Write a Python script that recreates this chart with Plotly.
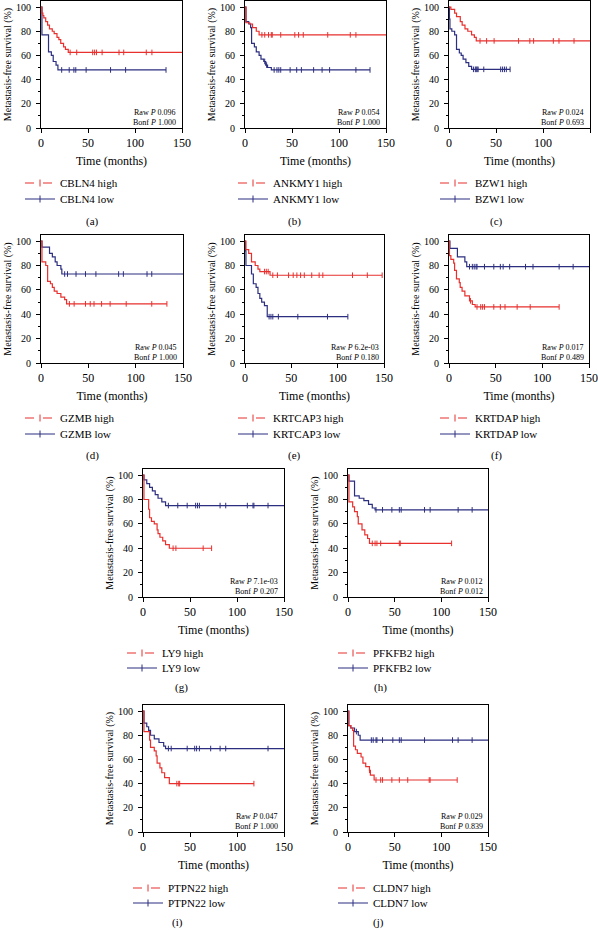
import plotly.graph_objects as go

W, H = 598, 930
FONT = "Liberation Serif"
RED = "#e8302e"
BLUE = "#2c2f80"

# ---------------- data ----------------
genes = ["CBLN4", "ANKMY1", "BZW1", "GZMB", "KRTCAP3", "KRTDAP", "LY9", "PFKFB2", "PTPN22", "CLDN7"]
panel_labels = ["(a)", "(b)", "(c)", "(d)", "(e)", "(f)", "(g)", "(h)", "(i)", "(j)"]
raw_p = ["0.096", "0.054", "0.024", "0.045", "6.2e-03", "0.017", "7.1e-03", "0.012", "0.047", "0.029"]
bonf_p = ["1.000", "1.000", "0.693", "1.000", "0.180", "0.489", "0.207", "0.012", "1.000", "0.839"]

# each group: step times, survival (%), last follow-up, censor times
CBLN4_high_t = [0, 1, 2, 3, 5, 7, 9, 12, 14, 17, 19, 21, 24, 26, 29]
CBLN4_high_s = [100, 95, 93, 91, 88, 85, 82, 80, 78, 75, 73, 70, 67, 65, 62.5]
CBLN4_high_end = 150
CBLN4_high_c = [31, 38, 55, 57, 59, 65, 83, 88, 112, 118]
CBLN4_low_t = [0, 1, 8, 11, 13, 16, 18]
CBLN4_low_s = [100, 77, 63, 60, 55, 52, 48]
CBLN4_low_end = 133
CBLN4_low_c = [22, 30, 35, 37, 48, 74, 90, 133]

ANKMY1_high_t = [0, 1, 5, 8, 12, 15]
ANKMY1_high_s = [100, 87, 86, 83, 80, 77]
ANKMY1_high_end = 150
ANKMY1_high_c = [18, 21, 25, 28, 29, 38, 53, 57, 62, 88, 112, 118]
ANKMY1_low_t = [0, 1, 4, 6, 7, 10, 12, 15, 17, 20, 22, 24, 28]
ANKMY1_low_s = [100, 88, 86, 83, 70, 67, 63, 60, 57, 55, 52, 50, 48]
ANKMY1_low_end = 133
ANKMY1_low_c = [21, 23, 31, 34, 36, 38, 48, 55, 60, 73, 82, 90, 118, 133]

BZW1_high_t = [0, 2, 6, 8, 12, 14, 17, 20, 24, 27, 29]
BZW1_high_s = [100, 98, 95, 92, 88, 85, 82, 80, 77, 75, 72]
BZW1_high_end = 150
BZW1_high_c = [33, 40, 48, 74, 86, 90, 111, 117, 133]
BZW1_low_t = [0, 0.5, 1, 3, 6, 8, 11, 13, 15, 18, 21, 24]
BZW1_low_s = [100, 90, 82, 80, 77, 65, 62, 60, 57, 54, 51, 48.5]
BZW1_low_end = 65
BZW1_low_c = [26, 28, 29, 30, 31, 37, 55, 57, 59, 61, 65]

GZMB_high_t = [0, 1, 5, 7, 10, 12, 14, 17, 21, 25, 27]
GZMB_high_s = [100, 83, 80, 67, 65, 62, 59, 57, 54, 52, 48.5]
GZMB_high_end = 133
GZMB_high_c = [30, 35, 47, 52, 56, 64, 73, 90, 117, 133]
GZMB_low_t = [0, 1, 9, 12, 15, 17, 21, 22]
GZMB_low_s = [100, 95, 90, 87, 83, 80, 77, 73]
GZMB_low_end = 150
GZMB_low_c = [25, 28, 37, 47, 58, 82, 87, 112, 117]

KRTCAP3_high_t = [0, 1, 4, 7, 11, 14, 16, 27]
KRTCAP3_high_s = [100, 93, 90, 83, 80, 77, 75, 72]
KRTCAP3_high_end = 148
KRTCAP3_high_c = [21, 23, 25, 30, 35, 47, 52, 56, 60, 64, 72, 80, 84, 116, 132, 148]
KRTCAP3_low_t = [0, 0.5, 1, 7, 9, 12, 14, 16, 18, 21, 24]
KRTCAP3_low_s = [100, 92, 80, 73, 65, 62, 57, 53, 50, 47, 38]
KRTCAP3_low_end = 111
KRTCAP3_low_c = [26, 28, 30, 36, 57, 89, 111]

KRTDAP_high_t = [0, 0.5, 2, 5, 6, 8, 11, 12, 14, 17, 22, 25, 28]
KRTDAP_high_s = [100, 88, 85, 82, 76, 69, 66, 62, 59, 55, 51, 48, 46]
KRTDAP_high_end = 118
KRTDAP_high_c = [23, 30, 34, 36, 38, 48, 55, 60, 73, 87, 118]
KRTDAP_low_t = [0, 1, 9, 17, 19]
KRTDAP_low_s = [100, 94, 87, 83, 79]
KRTDAP_low_end = 150
KRTDAP_low_c = [22, 25, 27, 29, 30, 38, 48, 55, 58, 65, 82, 90, 118, 133]

LY9_high_t = [0, 1, 6, 7, 9, 12, 15, 16, 18, 21, 24, 28]
LY9_high_s = [100, 80, 72, 65, 62, 60, 55, 52, 49, 46, 43, 40]
LY9_high_end = 73
LY9_high_c = [32, 35, 64, 73]
LY9_low_t = [0, 1, 4, 7, 10, 13, 16, 20, 24]
LY9_low_s = [100, 96, 93, 90, 87, 84, 81, 78, 75]
LY9_low_end = 150
LY9_low_c = [27, 37, 47, 56, 58, 60, 82, 88, 111, 117, 118, 133]

PFKFB2_high_t = [0, 1, 5, 7, 10, 11, 15, 18, 21, 23]
PFKFB2_high_s = [100, 78, 74, 70, 66, 60, 55, 51, 48, 44]
PFKFB2_high_end = 111
PFKFB2_high_c = [26, 29, 31, 35, 55, 56, 111]
PFKFB2_low_t = [0, 1, 7, 12, 17, 22, 26, 29]
PFKFB2_low_s = [100, 95, 83, 81, 79, 76, 73, 71.5]
PFKFB2_low_end = 150
PFKFB2_low_c = [30, 37, 47, 55, 57, 82, 88, 118, 133]

PTPN22_high_t = [0, 1, 7, 8, 12, 14, 15, 18, 20, 23, 28]
PTPN22_high_s = [100, 83, 76, 70, 67, 63, 57, 53, 49, 45, 40]
PTPN22_high_end = 118
PTPN22_high_c = [36, 38, 39, 118]
PTPN22_low_t = [0, 1, 4, 6, 8, 12, 17, 22, 24]
PTPN22_low_s = [100, 90, 87, 84, 80, 77, 74, 71, 69]
PTPN22_low_end = 150
PTPN22_low_c = [27, 30, 47, 55, 57, 60, 72, 82, 88, 133]

CLDN7_high_t = [0, 0.5, 3, 5, 6, 8, 10, 14, 16, 19, 23, 24, 28]
CLDN7_high_s = [100, 88, 86, 84, 71, 68, 65, 62, 57, 54, 51, 47, 43]
CLDN7_high_end = 117
CLDN7_high_c = [23, 30, 35, 37, 47, 55, 64, 87, 88, 117]
CLDN7_low_t = [0, 1, 3, 7, 11, 13]
CLDN7_low_s = [100, 88, 86, 83, 80, 76]
CLDN7_low_end = 150
CLDN7_low_c = [9, 25, 27, 30, 31, 37, 48, 55, 57, 82, 112, 118, 133]

x_ticks = [0, 50, 100, 150]
y_ticks = [0, 20, 40, 60, 80, 100]

series = {
    "CBLN4": (CBLN4_high_t, CBLN4_high_s, CBLN4_high_end, CBLN4_high_c, CBLN4_low_t, CBLN4_low_s, CBLN4_low_end, CBLN4_low_c),
    "ANKMY1": (ANKMY1_high_t, ANKMY1_high_s, ANKMY1_high_end, ANKMY1_high_c, ANKMY1_low_t, ANKMY1_low_s, ANKMY1_low_end, ANKMY1_low_c),
    "BZW1": (BZW1_high_t, BZW1_high_s, BZW1_high_end, BZW1_high_c, BZW1_low_t, BZW1_low_s, BZW1_low_end, BZW1_low_c),
    "GZMB": (GZMB_high_t, GZMB_high_s, GZMB_high_end, GZMB_high_c, GZMB_low_t, GZMB_low_s, GZMB_low_end, GZMB_low_c),
    "KRTCAP3": (KRTCAP3_high_t, KRTCAP3_high_s, KRTCAP3_high_end, KRTCAP3_high_c, KRTCAP3_low_t, KRTCAP3_low_s, KRTCAP3_low_end, KRTCAP3_low_c),
    "KRTDAP": (KRTDAP_high_t, KRTDAP_high_s, KRTDAP_high_end, KRTDAP_high_c, KRTDAP_low_t, KRTDAP_low_s, KRTDAP_low_end, KRTDAP_low_c),
    "LY9": (LY9_high_t, LY9_high_s, LY9_high_end, LY9_high_c, LY9_low_t, LY9_low_s, LY9_low_end, LY9_low_c),
    "PFKFB2": (PFKFB2_high_t, PFKFB2_high_s, PFKFB2_high_end, PFKFB2_high_c, PFKFB2_low_t, PFKFB2_low_s, PFKFB2_low_end, PFKFB2_low_c),
    "PTPN22": (PTPN22_high_t, PTPN22_high_s, PTPN22_high_end, PTPN22_high_c, PTPN22_low_t, PTPN22_low_s, PTPN22_low_end, PTPN22_low_c),
    "CLDN7": (CLDN7_high_t, CLDN7_high_s, CLDN7_high_end, CLDN7_high_c, CLDN7_low_t, CLDN7_low_s, CLDN7_low_end, CLDN7_low_c),
}

# ---------------- layout (pixel boxes) ----------------
boxes = [
    (41, 182, 1, 128), (245, 386, 1, 128), (449, 590, 1, 128),
    (41, 183, 235, 363), (245, 384, 235, 363), (449, 589, 235, 363),
    (143, 284, 469, 597), (348, 488, 469, 597),
    (143, 284, 705, 832), (348, 488, 705, 832),
]
# legend: line start x, row y (high), row y (low)
legend_pos = [(30, 183, 199), (243, 183, 199), (445, 183, 199),
              (30, 418, 434), (243, 418, 434), (445, 418, 434),
              (132, 653, 668), (343, 653, 668),
              (138, 888, 903), (343, 888, 903)]
label_pos = [(92, 221), (294, 221), (496, 221),
             (92, 456), (294, 456), (496, 456),
             (181, 687), (380, 687),
             (177, 922), (378, 922)]


def step_value(t, s, x):
    v = s[0]
    for ti, si in zip(t, s):
        if x >= ti:
            v = si
    return v


fig = go.Figure()
layout = dict(
    template="none",
    width=W, height=H, margin=dict(l=0, r=0, t=0, b=0, autoexpand=False),
    paper_bgcolor="white", plot_bgcolor="white",
    font=dict(family=FONT, size=11, color="black"),
    annotations=[],
)

for i, g in enumerate(genes):
    n = "" if i == 0 else str(i + 1)
    xa, ya = "x" + n, "y" + n
    lg_hi = "legend" if i == 0 else "legend" + str(2 * i + 1)
    lg_lo = "legend" + str(2 * i + 2)
    ht, hs, he, hc, lt, ls, le, lc = series[g]
    L, R, T, B = boxes[i]

    for (tt, ss, ee, cc, col) in [(lt, ls, le, lc, BLUE), (ht, hs, he, hc, RED)]:
        fig.add_trace(go.Scatter(
            x=list(tt) + [ee], y=list(ss) + [ss[-1]], mode="lines",
            line=dict(color=col, width=1.2, shape="hv"),
            xaxis=xa, yaxis=ya, showlegend=False, hoverinfo="skip"))
        fig.add_trace(go.Scatter(
            x=cc, y=[step_value(tt, ss, c) for c in cc], mode="markers",
            marker=dict(symbol="line-ns", size=4, line=dict(color=col, width=1)),
            xaxis=xa, yaxis=ya, showlegend=False, hoverinfo="skip"))

    fig.add_trace(go.Scatter(
        x=[None], y=[None], mode="lines+markers", name=g + " high",
        line=dict(color=RED, width=1.2, dash="dash"),
        marker=dict(symbol="line-ns", size=5, line=dict(color=RED, width=1)),
        xaxis=xa, yaxis=ya, legend=lg_hi))
    fig.add_trace(go.Scatter(
        x=[None], y=[None], mode="lines+markers", name=g + " low",
        line=dict(color=BLUE, width=1.2),
        marker=dict(symbol="line-ns", size=5, line=dict(color=BLUE, width=1)),
        xaxis=xa, yaxis=ya, legend=lg_lo))

    lx, ly_hi, ly_lo = legend_pos[i]
    for lg, ly in [(lg_hi, ly_hi), (lg_lo, ly_lo)]:
        layout[lg] = dict(
            x=(lx - 10) / W, y=1 - ly / H, xanchor="left", yanchor="middle",
            bgcolor="rgba(0,0,0,0)", font=dict(family=FONT, size=11),
            itemwidth=30,
        )

    axis_common = dict(
        showline=True, mirror=True, linecolor="black", linewidth=1,
        ticks="outside", ticklen=4, tickcolor="black", tickwidth=1,
        showgrid=False, zeroline=False, automargin=False,
    )
    layout["xaxis" + n] = dict(
        axis_common, domain=[L / W, R / W], anchor=ya, range=[0, 150],
        tickvals=x_ticks, tickfont=dict(family=FONT, size=12),
        title=dict(text="Time (months)", font=dict(family=FONT, size=12), standoff=7),
    )
    layout["yaxis" + n] = dict(
        axis_common, domain=[1 - B / H, 1 - T / H], anchor=xa, range=[0, 105],
        tickvals=y_ticks, tickfont=dict(family=FONT, size=10), ticklabelstandoff=3,
        minor=dict(dtick=10, tick0=0, ticks="outside", ticklen=2, tickcolor="black"),
        title=dict(text="Metastasis-free survival (%)", font=dict(family=FONT, size=10), standoff=2),
    )

    layout["annotations"].append(dict(
        text="Raw <i>P</i> " + raw_p[i], xref=xa + " domain", yref=ya + " domain",
        x=0.975, y=0.125, xanchor="right", yanchor="middle", showarrow=False,
        font=dict(family=FONT, size=8)))
    layout["annotations"].append(dict(
        text="Bonf <i>P</i> " + bonf_p[i], xref=xa + " domain", yref=ya + " domain",
        x=0.975, y=0.04, xanchor="right", yanchor="middle", showarrow=False,
        font=dict(family=FONT, size=8)))
    px, py = label_pos[i]
    layout["annotations"].append(dict(
        text=panel_labels[i], xref="paper", yref="paper",
        x=px / W, y=1 - py / H, xanchor="center", yanchor="middle", showarrow=False,
        font=dict(family=FONT, size=11)))

fig.update_layout(**layout)
fig.write_html("out.html", config={"displayModeBar": False},
               post_script="document.body.style.margin='0';")
